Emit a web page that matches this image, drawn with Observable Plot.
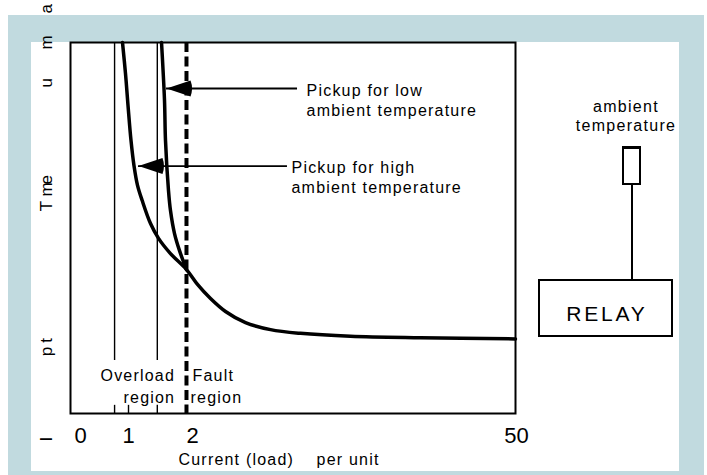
<!DOCTYPE html>
<html>
<head>
<meta charset="utf-8">
<script src="https://cdn.jsdelivr.net/npm/d3@7"></script>
<script src="https://cdn.jsdelivr.net/npm/@observablehq/plot@0.6"></script>
<style>
  html, body { margin: 0; padding: 0; background: #ffffff; }
  #wrap { position: relative; width: 707px; height: 475px; overflow: hidden;
          font-family: "Liberation Sans", Arial, sans-serif; color: #000; }
  #band { position: absolute; left: 8px; top: 15px; width: 696px; height: 460px; background: #c1dadf; }
  #inner { position: absolute; left: 31px; top: 42px; width: 648px; height: 429px; background: #ffffff; }
  #chart { position: absolute; left: 0; top: 0; }
  #chart svg text { letter-spacing: 1.2px; }
  #chart svg [aria-label^="x-axis"] text { letter-spacing: 0; }
  .amb { position: absolute; left: 566px; top: 97px; width: 120px; text-align: center;
         font-size: 16px; line-height: 19px; letter-spacing: 1.3px; }
  .sensor { position: absolute; left: 622px; top: 146px; width: 19px; height: 39px;
            box-sizing: border-box; border: 2px solid #000; border-top-width: 3px; background: #fff; }
  .wire { position: absolute; left: 631px; top: 185px; width: 2px; height: 95px; background: #000; }
  .relay { position: absolute; left: 538px; top: 279px; width: 135px; height: 58px;
           box-sizing: border-box; border: 2px solid #000; background: #fff; }
  .relay span { position: absolute; left: 0; right: 0; top: 21px; text-align: center;
                font-size: 21px; line-height: 24px; letter-spacing: 2.8px; padding-left: 2.8px; }
</style>
</head>
<body>
<div id="wrap">
  <div id="band"></div>
  <div id="inner"></div>
  <div class="amb">ambient<br>temperature</div>
  <div class="sensor"></div>
  <div class="wire"></div>
  <div class="relay"><span>RELAY</span></div>
  <div id="chart"></div>
</div>
<script>
// ---- data ----
const currentTicks = [0, 1, 2, 50];

// trip curve, high ambient temperature (current in per unit, time in arbitrary units)
const highCurrent = [0.875, 0.9375, 0.990, 1.039, 1.086, 1.141, 1.214, 1.344, 1.469, 1.656, 1.906, 2.74, 4.67, 6.89, 9.85, 13.56, 18.0, 25.4, 35.78, 49.85];
const highTime    = [100, 91.6, 83.0, 73.6, 66.8, 61.5, 57.4, 51.2, 47.2, 43.1, 38.8, 34.8, 31.0, 27.5, 24.5, 22.6, 21.6, 20.8, 20.4, 20.1];

// trip curve, low ambient temperature
const lowCurrent = [1.516, 1.5625, 1.578, 1.625, 1.656, 1.719, 1.797, 1.906];
const lowTime    = [100, 84.4, 73.6, 60.1, 54.7, 48.5, 43.9, 38.8];

// overload region boundaries and base ticks
const overloadBounds = [0.71, 1.45];
const overloadLineSpan = [14.3, 100];
const baseTicks = [0.71, 1, 1.45];
const baseTickSpan = [0, 2.2];
const faultPickup = [1.906];

// pickup arrows
const arrowFrom = [1.594, 1.156];
const arrowTo   = [17.56, 16.07];
const arrowTime = [87.6, 66.7];

const pickupLabels = ["Pickup for low\nambient temperature", "Pickup for high\nambient temperature"];
const pickupLabelCurrent = [18.9, 16.67];
const pickupLabelTime = [84.5, 63.8];

const regionLabels = ["Overload", "region", "Fault", "region"];
const regionLabelCurrent = [0.417, 0.896, 2.0, 1.97];
const regionLabelTime = [10.1, 4.3, 10.1, 4.3];

const yLabelGlyphs = ["I", "p", "t", "T", "m", "e", "u", "m", "a"];
const yLabelTime   = [-7.55, 15.4, 19.1, 54.5, 58.5, 61.7, 87.9, 98.1, 107.8];

const xLabel = "Current (load)    per unit";

// ---- tables ----
const high = highCurrent.map((c, i) => ({current: c, time: highTime[i]}));
const low = lowCurrent.map((c, i) => ({current: c, time: lowTime[i]}));
const arrows = arrowFrom.map((f, i) => ({from: f, to: arrowTo[i], time: arrowTime[i]}));
const pickups = pickupLabels.map((t, i) => ({label: t, current: pickupLabelCurrent[i], time: pickupLabelTime[i]}));
const regions = regionLabels.map((t, i) => ({label: t, current: regionLabelCurrent[i], time: regionLabelTime[i]}));
const yGlyphs = yLabelGlyphs.map((g, i) => ({glyph: g, time: yLabelTime[i]}));

// filled arrowhead pointing left, anchored at its tip
const leftHead = {
  draw(ctx) {
    ctx.moveTo(0, 0);
    ctx.lineTo(24, -8);
    ctx.quadraticCurveTo(27, 0, 24, 8);
    ctx.closePath();
  }
};

const chart = Plot.plot({
  width: 707,
  height: 475,
  marginLeft: 70,
  marginRight: 192,
  marginTop: 42,
  marginBottom: 62,
  style: {background: "transparent", overflow: "visible", color: "#000",
          fontFamily: "'Liberation Sans', Arial, sans-serif", fontSize: "22px"},
  x: {type: "linear", domain: currentTicks, range: [80, 128, 192, 516],
      ticks: currentTicks, tickSize: 0, tickPadding: 14, tickFormat: d => String(d), label: null},
  y: {domain: [0, 100], axis: null},
  marks: [
    Plot.frame({stroke: "#000", strokeWidth: 2}),
    Plot.ruleX(overloadBounds, {x: d => d, y1: overloadLineSpan[0], y2: overloadLineSpan[1], stroke: "#000", strokeWidth: 1.4}),
    Plot.ruleX(baseTicks, {x: d => d, y1: baseTickSpan[0], y2: baseTickSpan[1], stroke: "#000", strokeWidth: 1.4}),
    Plot.ruleX(faultPickup, {x: d => d, stroke: "#000", strokeWidth: 4, strokeDasharray: "10,4.5"}),
    Plot.line(low, {x: "current", y: "time", curve: "catmull-rom", stroke: "#000", strokeWidth: 3.5}),
    Plot.line(high, {x: "current", y: "time", curve: "catmull-rom", stroke: "#000", strokeWidth: 3.5}),
    Plot.ruleY(arrows, {y: "time", x1: "from", x2: "to", stroke: "#000", strokeWidth: 1.8}),
    Plot.dot(arrows, {x: "from", y: "time", symbol: leftHead, fill: "#000", stroke: "none"}),
    Plot.text(pickups, {x: "current", y: "time", text: "label", textAnchor: "start", fontSize: 16, lineHeight: 1.25, fill: "#000"}),
    Plot.text(regions, {x: "current", y: "time", text: "label", textAnchor: "start", fontSize: 16, fill: "#000"}),
    Plot.text([xLabel], {frameAnchor: "bottom-left", dx: 108, dy: 51, text: d => d, textAnchor: "start", fontSize: 16, fill: "#000"}),
    Plot.text(yGlyphs, {y: "time", text: "glyph", frameAnchor: "left", dx: -24, rotate: -90, fontSize: 17, fill: "#000"})
  ]
});
document.getElementById("chart").appendChild(chart);
</script>
</body>
</html>
